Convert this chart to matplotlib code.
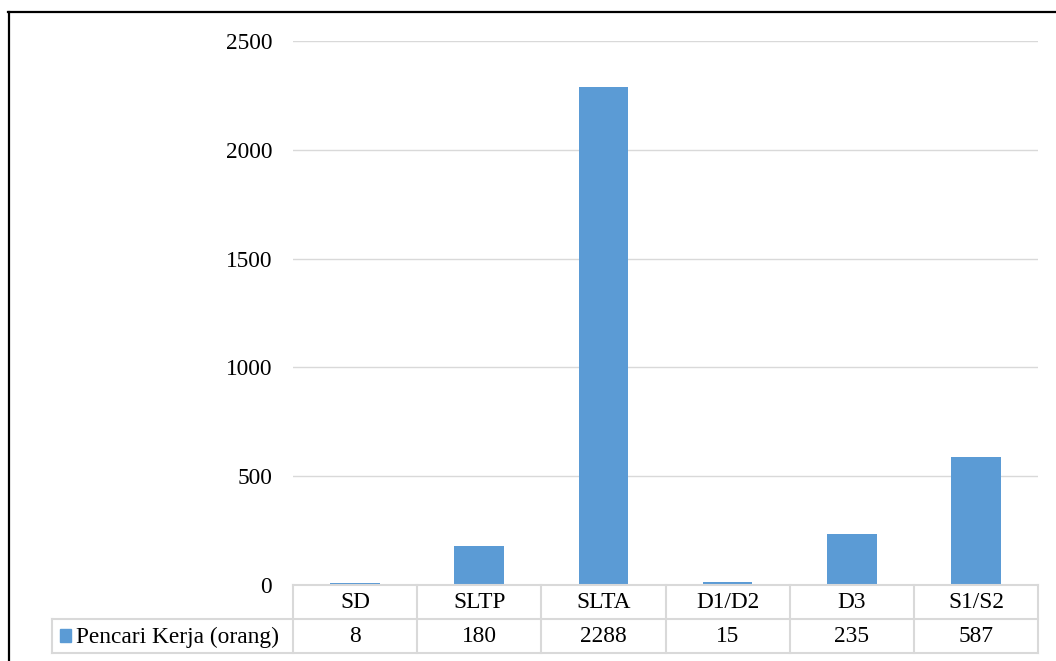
import matplotlib.pyplot as plt
from matplotlib.lines import Line2D
from matplotlib.patches import Rectangle

plt.rcParams['font.family'] = ['Liberation Serif', 'DejaVu Serif']

# data
categories = ['SD', 'SLTP', 'SLTA', 'D1/D2', 'D3', 'S1/S2']
pencari_kerja = [8, 180, 2288, 15, 235, 587]
series_name = 'Pencari Kerja (orang)'
y_ticks = [0, 500, 1000, 1500, 2000, 2500]

W, H = 1056, 661
bar_color = '#5B9BD5'
grid_color = '#d9d9d9'
fs = 16.8


def fx(x):
    return x / W


def fy(y):
    return 1 - y / H


fig = plt.figure(figsize=(W / 100, H / 100), dpi=100)

# plot area in pixel coordinates
left, right, top, bottom = 293, 1038, 41, 585
ax = fig.add_axes([fx(left), fy(bottom), fx(right - left), fy(top) - fy(bottom)])
x = range(len(categories))
ax.bar(x, pencari_kerja, width=0.4, color=bar_color, zorder=2)
ax.set_xlim(-0.5, len(categories) - 0.5)
ax.set_ylim(0, 2500)
ax.set_yticks(y_ticks)
ax.set_yticklabels([str(t) for t in y_ticks], fontsize=fs)
ax.set_xticks([])
ax.tick_params(axis='y', length=0, pad=15)
ax.yaxis.grid(True, color=grid_color, linewidth=1.0, zorder=0)
for s in ax.spines.values():
    s.set_visible(False)

# data table under the axis
row1, row2, row3 = 585, 619, 653
tbl_left = 52
col_w = (right - left) / len(categories)


def hline(y, x0, x1, **kw):
    fig.add_artist(Line2D([fx(x0), fx(x1)], [fy(y), fy(y)], **kw))


def vline(x, y0, y1, **kw):
    fig.add_artist(Line2D([fx(x), fx(x)], [fy(y0), fy(y1)], **kw))


tkw = dict(color=grid_color, linewidth=1.5)
hline(row1, left, right, **tkw)
hline(row2, tbl_left, right, **tkw)
hline(row3, tbl_left, right, **tkw)
vline(tbl_left, row2, row3, **tkw)
for i in range(len(categories) + 1):
    vline(left + i * col_w, row1, row3, **tkw)

for i, (cat, val) in enumerate(zip(categories, pencari_kerja)):
    cx = left + (i + 0.5) * col_w
    fig.text(fx(cx), fy((row1 + row2) / 2 + 1), cat, ha='center', va='center', fontsize=fs)
    fig.text(fx(cx), fy((row2 + row3) / 2 + 1), str(val), ha='center', va='center', fontsize=fs)

# legend key in the table's row header
fig.add_artist(Rectangle((fx(60), fy(642)), fx(11), fy(629) - fy(642), color=bar_color))
fig.text(fx(76), fy((row2 + row3) / 2 + 1), series_name, ha='left', va='center', fontsize=fs)

# outer frame
hline(12, 8, W, color='black', linewidth=1.6)
vline(8.5, 12, H, color='black', linewidth=1.6)

fig.savefig('out.png', dpi=100)
